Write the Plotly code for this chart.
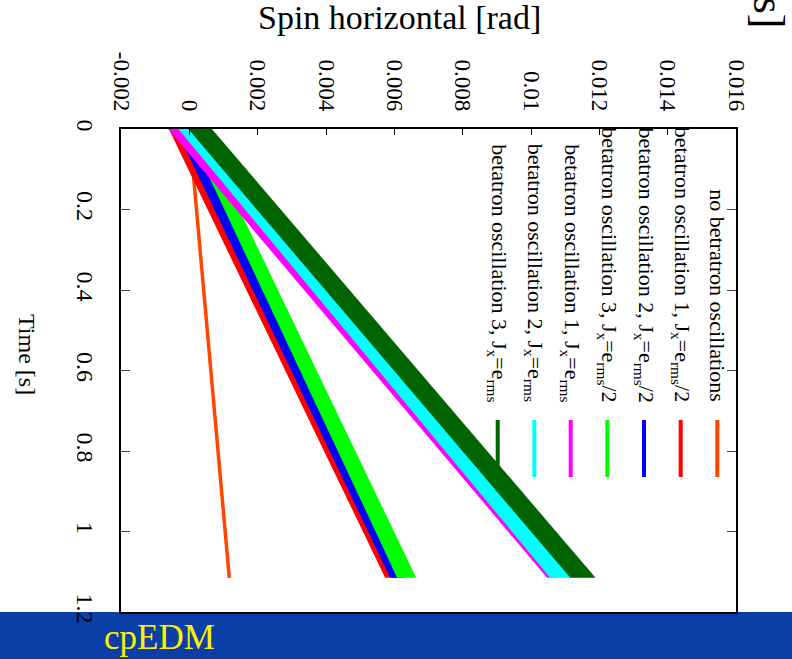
import plotly.graph_objects as go

# ---- data ----
time_s = [0, 0.2, 0.4, 0.6, 0.8, 1.0, 1.115]

no_osc = [0.0, 0.00021, 0.00042, 0.00063, 0.00084, 0.00105, 0.00117]

red_lo = [-0.00060, 0.00053, 0.00167, 0.00281, 0.00394, 0.00508, 0.00573]
red_hi = [-0.00019, 0.00093, 0.00206, 0.00318, 0.00431, 0.00543, 0.00608]
blue_lo = [-0.00039, 0.00073, 0.00186, 0.00298, 0.00411, 0.00523, 0.00588]
blue_hi = [0.00012, 0.00123, 0.00233, 0.00344, 0.00454, 0.00565, 0.00628]
green_lo = [-0.00008, 0.00103, 0.00213, 0.00324, 0.00434, 0.00545, 0.00608]
green_hi = [0.00033, 0.00146, 0.00259, 0.00373, 0.00486, 0.00599, 0.00664]
mag_lo = [-0.00062, 0.00137, 0.00336, 0.00535, 0.00734, 0.00933, 0.01047]
mag_hi = [-0.00012, 0.00183, 0.00378, 0.00574, 0.00769, 0.00964, 0.01076]
cyan_lo = [-0.00032, 0.00163, 0.00358, 0.00554, 0.00749, 0.00944, 0.01056]
cyan_hi = [0.00017, 0.00218, 0.00418, 0.00619, 0.00819, 0.01020, 0.01135]
dg_lo = [-0.00003, 0.00198, 0.00398, 0.00599, 0.00799, 0.01000, 0.01115]
dg_hi = [0.00066, 0.00267, 0.00469, 0.00670, 0.00871, 0.01073, 0.01189]

legend_labels = [
    "no betratron oscillations",
    "betatron oscillation 1, J<sub>x</sub>=e<sub>rms</sub>/2",
    "betatron oscillation 2, J<sub>x</sub>=e<sub>rms</sub>/2",
    "betatron oscillation 3, J<sub>x</sub>=e<sub>rms</sub>/2",
    "betatron oscillation 1, J<sub>x</sub>=e<sub>rms</sub>",
    "betatron oscillation 2, J<sub>x</sub>=e<sub>rms</sub>",
    "betatron oscillation 3, J<sub>x</sub>=e<sub>rms</sub>",
]
colors = ["#ff4500", "#ff0000", "#0000ff", "#00ff00", "#ff00ff", "#00ffff", "#006400"]

spin_ticks = [-0.002, 0, 0.002, 0.004, 0.006, 0.008, 0.01, 0.012, 0.014, 0.016]
spin_ticktext = ["-0.002", "0", "0.002", "0.004", "0.006", "0.008", "0.01", "0.012", "0.014", "0.016"]
time_ticks = [0, 0.2, 0.4, 0.6, 0.8, 1.0, 1.2]
time_ticktext = ["0", "0.2", "0.4", "0.6", "0.8", "1", "1.2"]

FONT = "Liberation Serif"

# ---- layout geometry (pixels) ----
W, H = 792, 659
L, R, T, B = 121, 56, 129, 47
PW, PH = W - L - R, H - T - B


def px(x):
    return (x - L) / PW


def py(y):
    return (H - B - y) / PH


fig = go.Figure()

# orange line: no betatron oscillations
fig.add_trace(go.Scatter(x=no_osc, y=time_s, mode="lines",
                         line=dict(color=colors[0], width=3.5), hoverinfo="skip"))

bands = [(red_lo, red_hi), (blue_lo, blue_hi), (green_lo, green_hi),
         (mag_lo, mag_hi), (cyan_lo, cyan_hi), (dg_lo, dg_hi)]
for (lo, hi), c in zip(bands, colors[1:]):
    fig.add_trace(go.Scatter(x=list(lo) + list(hi)[::-1],
                             y=list(time_s) + list(time_s)[::-1],
                             mode="lines", fill="toself", fillcolor=c,
                             line=dict(width=0, color=c), hoverinfo="skip"))

shapes = []
# blue banner at bottom
shapes.append(dict(type="rect", xref="paper", yref="paper",
                   x0=px(0) - 0.01, x1=px(W) + 0.01, y0=py(H) - 0.02, y1=py(612),
                   fillcolor="#0b3ea6", line=dict(width=0), layer="below"))

annotations = []
# legend: rotated text + short vertical sample lines
col_x = [717.3, 680.7, 644.0, 607.3, 570.7, 534.3, 497.7]
for lab, c, cx in zip(legend_labels, colors, col_x):
    annotations.append(dict(text=lab, xref="paper", yref="paper",
                            x=px(cx), y=py(404), xanchor="center", yanchor="bottom",
                            textangle=90, showarrow=False,
                            font=dict(family=FONT, size=22, color="black")))
    shapes.append(dict(type="line", xref="paper", yref="paper",
                       x0=px(cx), x1=px(cx), y0=py(420), y1=py(477),
                       line=dict(color=c, width=4)))

# titles / texts
annotations.append(dict(text="Spin horizontal [rad]", xref="paper", yref="paper",
                        x=px(399), y=py(17), xanchor="center", yanchor="middle",
                        showarrow=False, font=dict(family=FONT, size=34, color="black")))
annotations.append(dict(text="Time [s]", xref="paper", yref="paper",
                        x=px(27), y=py(354), xanchor="center", yanchor="middle",
                        textangle=90, showarrow=False,
                        font=dict(family=FONT, size=24, color="black")))
annotations.append(dict(text="[s]", xref="paper", yref="paper",
                        x=px(768), y=py(30), xanchor="center", yanchor="bottom",
                        textangle=90, showarrow=False,
                        font=dict(family=FONT, size=44, color="black")))
annotations.append(dict(text="cpEDM", xref="paper", yref="paper",
                        x=px(159), y=py(637), xanchor="center", yanchor="middle",
                        showarrow=False, font=dict(family=FONT, size=35, color="#fff000")))

fig.update_layout(
    width=W, height=H,
    margin=dict(l=L, r=R, t=T, b=B, pad=0),
    paper_bgcolor="white", plot_bgcolor="white",
    showlegend=False,
    shapes=shapes, annotations=annotations,
    xaxis=dict(range=[-0.002, 0.016], side="top", tickvals=spin_ticks, ticktext=spin_ticktext,
               tickangle=90, ticks="inside", ticklen=6, tickcolor="black",
               showline=True, linecolor="black", linewidth=1.5, mirror=True,
               showgrid=False, zeroline=False, ticklabelstandoff=8,
               tickfont=dict(family=FONT, size=23, color="black")),
    yaxis=dict(range=[1.2, 0], tickvals=time_ticks, ticktext=time_ticktext,
               tickangle=90, ticks="inside", ticklen=9, tickcolor="#444",
               showline=True, linecolor="black", linewidth=1.5, mirror="ticks",
               showgrid=False, zeroline=False, ticklabelstandoff=13,
               tickfont=dict(family=FONT, size=24, color="black")),
)

fig.write_html("out.html")
